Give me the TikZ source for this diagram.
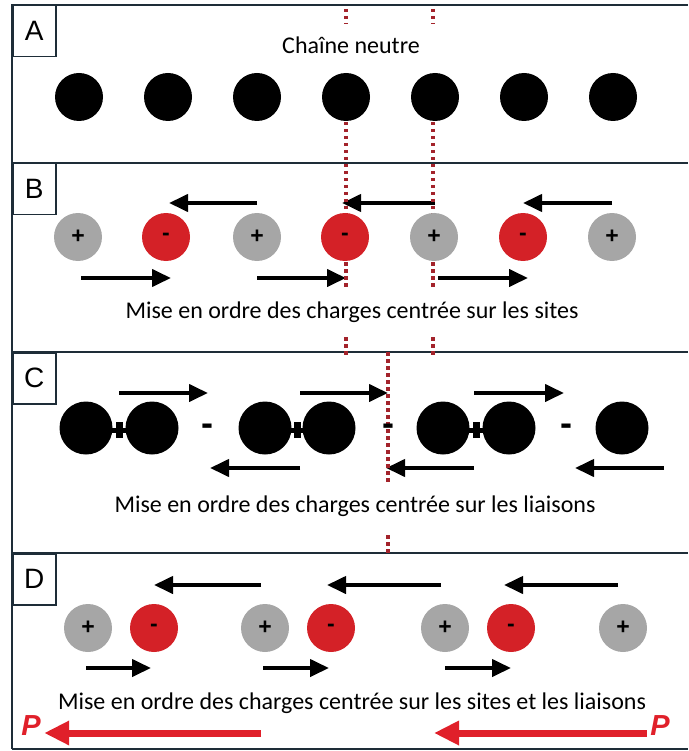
\documentclass[tikz,border=0pt]{standalone}
\usepackage{fontspec}
\setmainfont{Carlito}
\newfontfamily\arialfont{Liberation Sans}
\usepackage{xcolor}
\usetikzlibrary{arrows.meta,positioning,backgrounds}

\definecolor{framecol}{HTML}{1E2D38}
\definecolor{plusgray}{HTML}{A6A6A6}
\definecolor{minusred}{HTML}{D42127}
\definecolor{dotred}{HTML}{A3232B}
\definecolor{polred}{HTML}{E0202A}

\begin{document}
\begin{tikzpicture}[
    x=1pt, y=-1pt,
    frame/.style={draw=framecol, line width=2.5pt},
    tag/.style={rectangle, draw=framecol, line width=1.5pt, minimum width=43pt, minimum height=51pt, anchor=north west, font=\arialfont\fontsize{28}{28}\selectfont},
    atom/.style={circle, fill=black, minimum size=48pt, inner sep=0pt},
    bigatom/.style={atom, minimum size=53pt},
    cation/.style={atom, fill=plusgray, font=\arialfont\bfseries\fontsize{23}{23}\selectfont},
    anion/.style={atom, fill=minusred, font=\arialfont\bfseries\fontsize{23}{23}\selectfont},
    gap/.style={inner sep=0pt, font=\arialfont\bfseries\fontsize{36}{36}\selectfont},
    caption/.style={font=\fontsize{24}{28}\selectfont},
    push/.style={-{Triangle[length=19pt,width=17pt]}, line width=4pt},
    polar/.style={-{Triangle[length=25pt,width=23pt]}, line width=7pt, draw=polred},
    cut/.style={draw=dotred, line width=3.5pt, dash pattern=on 3.5pt off 3.5pt}
]
    \useasboundingbox (0,0) rectangle (688,751);

    % Frame and panels
    \draw[frame] (12,749) -- (12,5) -- (688,5);
    \draw[frame] (12,163) -- (688,163);
    \draw[frame] (12,352) -- (688,352);
    \draw[frame] (12,553) -- (688,553);
    \draw[frame] (12,749) -- (688,749);
    \node[tag] (tagA) at (12,5) {A};
    \node[tag] (tagB) at (12,163) {B};
    \node[tag] (tagC) at (12,352) {C};
    \node[tag] (tagD) at (12,553) {D};

    % Dotted guide lines
    \draw[cut] (346,9) -- (346,24);
    \draw[cut] (433,9) -- (433,24);
    \draw[cut] (346,122) -- (346,288);
    \draw[cut] (433,122) -- (433,288);
    \draw[cut] (346,337) -- (346,356);
    \draw[cut] (433,337) -- (433,356);
    \draw[cut] (388,352) -- (388,484);
    \draw[cut] (388,535) -- (388,556);

    % A: neutral chain
    \node[caption] (titleA) at (351,45) {Chaîne neutre};
    \node[atom] (a1) at (79,97) {};
    \node[atom] (a2) at (168,97) {};
    \node[atom] (a3) at (257,97) {};
    \node[atom] (a4) at (346,97) {};
    \node[atom] (a5) at (435,97) {};
    \node[atom] (a6) at (524,97) {};
    \node[atom] (a7) at (613,97) {};

    % B: site-centred
    \node[cation] (b1) at (78,237) {+};
    \node[anion] (b2) at (166,237) {-};
    \node[cation] (b3) at (257,237) {+};
    \node[anion] (b4) at (345,237) {-};
    \node[cation] (b5) at (434,237) {+};
    \node[anion] (b6) at (523,237) {-};
    \node[cation] (b7) at (612,237) {+};
    \node[caption] (titleB) at (352,312) {Mise en ordre des charges centrée sur les sites};

    % C: bond-centred
    \coordinate (k1) at (119,430);
    \coordinate (k2) at (297,430);
    \coordinate (k3) at (476,430);
    \foreach \k in {k1,k2,k3} {
        \draw[line width=5pt] ([xshift=-9pt]\k) -- ([xshift=9pt]\k);
        \draw[line width=7pt] ([yshift=-8pt]\k) -- ([yshift=8pt]\k);
    }
    \node[bigatom] (c1) at (86,428) {};
    \node[bigatom] (c2) at (152,428) {};
    \node[bigatom] (c3) at (265,428) {};
    \node[bigatom] (c4) at (329,428) {};
    \node[bigatom] (c5) at (443,428) {};
    \node[bigatom] (c6) at (509,428) {};
    \node[bigatom] (c7) at (622,428) {};
    \node[gap] (m1) at (207,430) {-};
    \node[gap] (m2) at (388,430) {-};
    \node[gap] (m3) at (566,430) {-};
    \node[caption] (titleC) at (355,506) {Mise en ordre des charges centrée sur les liaisons};

    % D: site- and bond-centred
    \node[cation] (d1) at (88,628) {+};
    \node[anion] (d2) at (154,628) {-};
    \node[cation] (d3) at (265,628) {+};
    \node[anion] (d4) at (331,628) {-};
    \node[cation] (d5) at (445,628) {+};
    \node[anion] (d6) at (511,628) {-};
    \node[cation] (d7) at (623,628) {+};
    \node[caption] (titleD) at (352,703) {Mise en ordre des charges centrée sur les sites et les liaisons};

    % Polarisation
    \node[text=polred, font=\arialfont\bfseries\itshape\fontsize{29}{29}\selectfont] (pL) at (31,726) {P};
    \node[text=polred, font=\arialfont\bfseries\itshape\fontsize{29}{29}\selectfont] (pR) at (660,726) {P};
    \coordinate (pLs) at (261,733);
    \coordinate (pRe) at (434,733);

    \begin{scope}[on background layer]
    % B arrows
    \draw[push] ([yshift=34pt]b3.center) -- ([yshift=34pt,xshift=3pt]b2.center);
    \draw[push] ([yshift=34pt,xshift=1pt]b5.center) -- ([yshift=34pt,xshift=-3pt]b4.center);
    \draw[push] ([yshift=34pt]b7.center) -- ([yshift=34pt]b6.center);
    \draw[push] ([yshift=-41pt,xshift=3pt]b1.center) -- ([yshift=-41pt,xshift=5pt]b2.center);
    \draw[push] ([yshift=-41pt]b3.center) -- ([yshift=-41pt,xshift=1pt]b4.center);
    \draw[push] ([yshift=-41pt,xshift=4pt]b5.center) -- ([yshift=-41pt,xshift=5pt]b6.center);
    % C arrows
    \draw[push] ([yshift=37pt]k1) -- ([yshift=37pt,xshift=1pt]m1.center);
    \draw[push] ([yshift=37pt,xshift=3pt]k2) -- ([yshift=37pt]m2.center);
    \draw[push] ([yshift=37pt,xshift=-2pt]k3) -- ([yshift=37pt,xshift=-2pt]m3.center);
    \draw[push] ([yshift=-38pt,xshift=3pt]k2) -- ([yshift=-38pt,xshift=3pt]m1.center);
    \draw[push] ([yshift=-38pt,xshift=-2pt]k3) -- ([yshift=-38pt,xshift=-2pt]m2.center);
    \draw[push] ([yshift=-38pt,xshift=42pt]c7.center |- m3.center) -- ([yshift=-38pt,xshift=9pt]m3.center);
    % D arrows
    \draw[push] ([yshift=43pt,xshift=-4pt]d3.center) -- ([yshift=43pt]d2.center);
    \draw[push] ([yshift=43pt,xshift=-4pt]d5.center) -- ([yshift=43pt,xshift=-4pt]d4.center);
    \draw[push] ([yshift=43pt,xshift=-5pt]d7.center) -- ([yshift=43pt,xshift=-7pt]d6.center);
    \draw[push] ([yshift=-40pt,xshift=-2pt]d1.center) -- ([yshift=-40pt,xshift=-3pt]d2.center);
    \draw[push] ([yshift=-40pt,xshift=-2pt]d3.center) -- ([yshift=-40pt,xshift=-2pt]d4.center);
    \draw[push] ([yshift=-40pt]d5.center) -- ([yshift=-40pt]d6.center);
    \end{scope}

    \draw[polar] (pLs) -- (pL.east |- pLs);
    \draw[polar] (pR.west |- pRe) -- (pRe);
\end{tikzpicture}
\end{document}
